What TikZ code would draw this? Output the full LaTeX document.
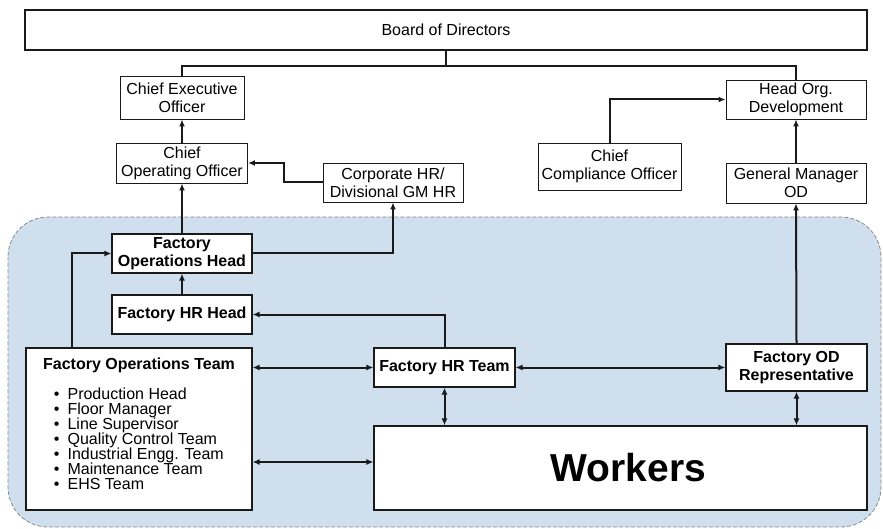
\documentclass[tikz,border=0pt]{standalone}
\usepackage{xcolor}
\usepackage{fontspec}
\setmainfont{Liberation Sans}
\usepackage{tikz}
\usetikzlibrary{arrows.meta,positioning,calc}
\definecolor{orgregion}{HTML}{CFDFEE}
\definecolor{orgline}{HTML}{1A1A1A}
\definecolor{orgdash}{HTML}{8A8A8A}
\tikzstyle{block} = [rectangle, draw=orgline, line width=0.9pt, fill=white,
    align=center, inner sep=0pt, font=\fontsize{16}{18}\selectfont]
\tikzstyle{fblock} = [block, line width=1.2pt, font=\fontsize{16}{18}\selectfont\bfseries]
\tikzstyle{link} = [orgline, line width=1.8pt]
\tikzstyle{arrow} = [-{Latex[length=7pt,width=6pt]}, line width=2pt, orgline]
\tikzstyle{biarrow} = [{Latex[length=7pt,width=6pt]}-{Latex[length=7pt,width=6pt]}, line width=2pt, orgline]
\newcommand{\opsitem}[1]{\noindent\hspace*{28pt}\textbullet\hspace{8pt}#1\par}

\begin{document}
\begin{tikzpicture}[x=1pt, y=-1pt]
\useasboundingbox (0,0) rectangle (883,529);
% factory region
\draw[orgdash, line width=0.8pt, dash pattern=on 4pt off 2pt, rounded corners=40pt, fill=orgregion] (8,217) rectangle (881,527);

\node[block, line width=1.8pt, minimum width=842pt, minimum height=40pt] (board) at (446,30) {Board of Directors};
\node[block, minimum width=124pt, minimum height=43pt] (ceo) at (182,97.5) {Chief Executive\\Officer};
\node[block, minimum width=131pt, minimum height=40pt] (coo) at (182,163) {Chief\\Operating Officer};
\node[block, minimum width=140pt, minimum height=39pt] (corphr) at (393,182.5) {Corporate HR/\\Divisional GM HR};
\node[block, minimum width=143pt, minimum height=47pt] (cco) at (609.5,166.5) {Chief\\Compliance Officer};
\node[block, minimum width=140pt, minimum height=39pt] (hod) at (796,99.5) {Head Org.\\Development};
\node[block, minimum width=140pt, minimum height=40pt] (gmod) at (796,183) {General Manager\\OD};

\node[fblock, minimum width=140pt, minimum height=39pt] (foh) at (182,253.5) {Factory\\Operations Head};
\node[fblock, minimum width=140pt, minimum height=39pt] (fhrh) at (182,314.5) {Factory HR Head};
\node[fblock, minimum width=141pt, minimum height=39pt] (fhrt) at (444.5,367.5) {Factory HR Team};
\node[fblock, minimum width=141pt, minimum height=47pt] (fodr) at (796.5,367.5) {Factory OD\\Representative};
\node[block, line width=1.2pt, minimum width=493pt, minimum height=84pt,
  font=\fontsize{39}{44}\selectfont\bfseries] (workers) at (620.5,468) {\hspace*{16pt}Workers};
\node[block, line width=1.2pt] (fot) at (139,429) {%
  \begin{minipage}[c][162pt][t]{226pt}
  \vspace*{10pt}
  {\centering\bfseries Factory Operations Team\par}
  \vspace{15pt}
  \fontsize{16}{15}\selectfont\lineskiplimit=-5pt
  \opsitem{Production Head}
  \opsitem{Floor Manager}
  \opsitem{Line Supervisor}
  \opsitem{Quality Control Team}
  \opsitem{Industrial Engg. Team}
  \opsitem{Maintenance Team}
  \opsitem{EHS Team}
  \end{minipage}};

% reporting lines
\draw[link] (board.south) -- ++(0,15) -| (ceo.north);
\draw[link] (board.south) -- ++(0,15) -| (hod.north);
\draw[arrow] (coo.north) -- (ceo.south);
\draw[arrow] (corphr.west) -- ++(-39,0) |- (coo.east);
\draw[arrow] (foh.north) -- (coo.south);
\draw[arrow] (foh.east) -| (corphr.south);
\draw[arrow] (cco.north) |- (hod.west);
\draw[arrow] (gmod.north) -- (hod.south);
\draw[arrow] (fodr.north) -- (gmod.south);
\draw[arrow] (fhrh.north) -- (foh.south);
\draw[arrow] ([xshift=47pt]fot.north west) |- (foh.west);
\draw[arrow] (fhrt.north) |- (fhrh.east);

% factory floor
\draw[biarrow] (fot.east |- fhrt.west) -- (fhrt.west);
\draw[biarrow] (fhrt.east) -- (fodr.west);
\coordinate (wkin) at ([yshift=6pt]workers.west);
\draw[biarrow] (fot.east |- wkin) -- (wkin);
\draw[biarrow] (fhrt.south) -- (fhrt.south |- workers.north);
\draw[biarrow] (fodr.south) -- (fodr.south |- workers.north);
\end{tikzpicture}
\end{document}
